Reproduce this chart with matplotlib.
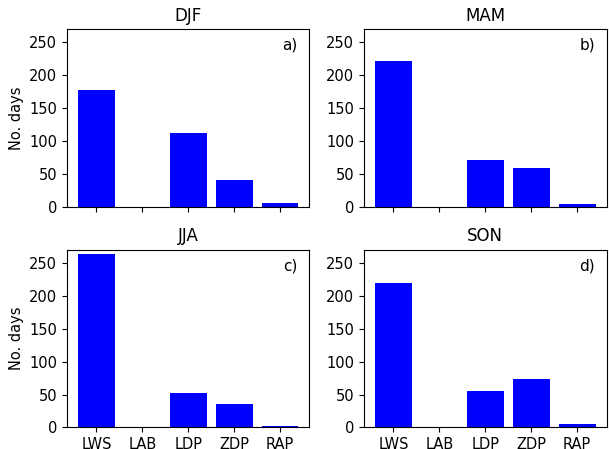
import matplotlib
matplotlib.use('Agg')
import matplotlib.pyplot as plt

types = ['LWS', 'LAB', 'LDP', 'ZDP', 'RAP']
seasons = ['DJF', 'MAM', 'JJA', 'SON']
panel_tags = ['a)', 'b)', 'c)', 'd)']

djf = [177, 0, 113, 41, 6]
mam = [221, 0, 71, 59, 4]
jja = [263, 0, 52, 36, 2]
son = [219, 0, 56, 73, 5]

counts = [djf, mam, jja, son]

fig, axes = plt.subplots(2, 2, figsize=(6.09, 4.49), dpi=100, sharex=True)
plt.subplots_adjust(left=0.110, right=0.996, bottom=0.048, top=0.935,
                    wspace=0.225, hspace=0.24)

for i, ax in enumerate(axes.flat):
    ax.bar(types, counts[i], width=0.8, color='blue')
    ax.set_ylim(0, 270)
    ax.set_yticks([0, 50, 100, 150, 200, 250])
    ax.set_title(seasons[i], fontsize=12)
    ax.text(0.92, 0.91, panel_tags[i], transform=ax.transAxes,
            ha='center', va='center', fontsize=11)
    ax.tick_params(labelsize=10.5)
    if i % 2 == 0:
        ax.set_ylabel('No. days', fontsize=10.5)

fig.savefig('out.png', dpi=100)
